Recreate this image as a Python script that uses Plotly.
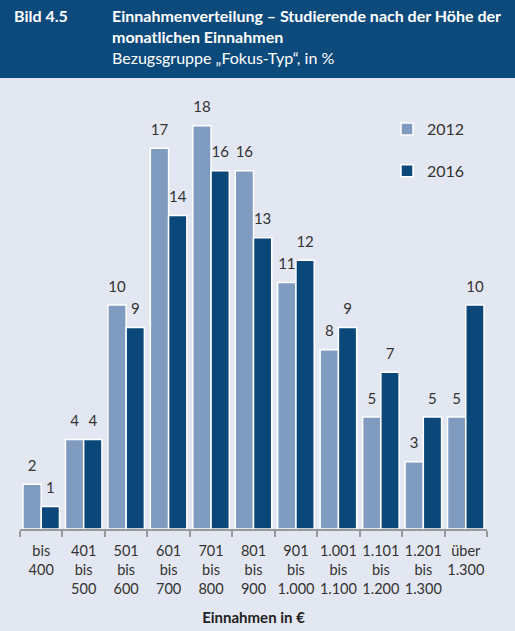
import plotly.graph_objects as go

categories = ['bis<br>400', '401<br>bis<br>500', '501<br>bis<br>600', '601<br>bis<br>700',
              '701<br>bis<br>800', '801<br>bis<br>900', '901<br>bis<br>1.000',
              '1.001<br>bis<br>1.100', '1.101<br>bis<br>1.200', '1.201<br>bis<br>1.300',
              'über<br>1.300']
werte_2012 = [2, 4, 10, 17, 18, 16, 11, 8, 5, 3, 5]
werte_2016 = [1, 4, 9, 14, 16, 13, 12, 9, 7, 5, 10]

W, H = 515, 631
ml, mr, mt, mb = 20, 28, 90, 102
pw, ph = W - ml - mr, H - mt - mb

def px_x(x):
    return (x - ml) / pw

def px_y(y):
    return (H - mb - y) / ph

font = 'Lato'
hell = '#7f9bc0'
dunkel = '#0b4778'
kopf = '#0d4a7c'
hinter = '#e3e7f1'

fig = go.Figure()
for name, werte, farbe in [('2012', werte_2012, hell), ('2016', werte_2016, dunkel)]:
    fig.add_trace(go.Bar(x=categories, y=werte, name=name, legendgroup=name, offsetgroup=name,
                         marker=dict(color=farbe, line=dict(color='white', width=1.5))))
    # Werte-Beschriftung etwas über den Balken
    fig.add_trace(go.Scatter(x=categories, y=werte, mode='markers+text', text=werte,
                             textposition='top center', offsetgroup=name, showlegend=False,
                             marker=dict(size=14, opacity=0), cliponaxis=False, hoverinfo='skip',
                             textfont=dict(size=15, color='#333')))

# Kopfzeile
fig.add_shape(type='rect', xref='paper', yref='paper', x0=px_x(0), x1=px_x(W),
              y0=px_y(78), y1=px_y(0), fillcolor=kopf, line_width=0, layer='below')
fig.add_annotation(xref='paper', yref='paper', x=px_x(12), y=px_y(16), xanchor='left', yanchor='middle',
                   text='<b>Bild 4.5</b>', showarrow=False, font=dict(size=16, color='white', family=font))
fig.add_annotation(xref='paper', yref='paper', x=px_x(110), y=px_y(4), xanchor='left', yanchor='top',
                   align='left', showarrow=False,
                   text='<b>Einnahmenverteilung – Studierende nach der Höhe der</b><br>'
                        '<b>monatlichen Einnahmen</b><br>Bezugsgruppe „Fokus-Typ“, in %',
                   font=dict(size=16, color='white', family=font))

fig.update_layout(
    width=W, height=H,
    margin=dict(l=ml, r=mr, t=mt, b=mb, autoexpand=False),
    paper_bgcolor=hinter, plot_bgcolor=hinter,
    font=dict(family=font, size=15, color='#333'),
    barmode='group', bargap=0.14, bargroupgap=0.0,
    scattermode='group', scattergap=0.14,
    showlegend=True,
    legend=dict(x=px_x(387), y=px_y(112), xanchor='left', yanchor='top',
                bgcolor='rgba(0,0,0,0)', tracegroupgap=18, traceorder='grouped',
                font=dict(size=16, color='#333')),
    xaxis=dict(showline=True, linecolor='#999', linewidth=1.5, ticks='outside',
               tickson='boundaries', ticklen=6, tickcolor='#999', tickwidth=1.5,
               tickangle=0, automargin=False, ticklabelstandoff=8,
               tickfont=dict(size=14.5, color='#333'), showgrid=False,
               title=dict(text='<b>Einnahmen in €</b>', font=dict(size=15, color='#222'), standoff=17)),
    yaxis=dict(range=[0, 19.6], visible=False, showgrid=False),
)

fig.write_html('out.html', config={'displayModeBar': False},
               post_script="document.body.style.margin='0';")
